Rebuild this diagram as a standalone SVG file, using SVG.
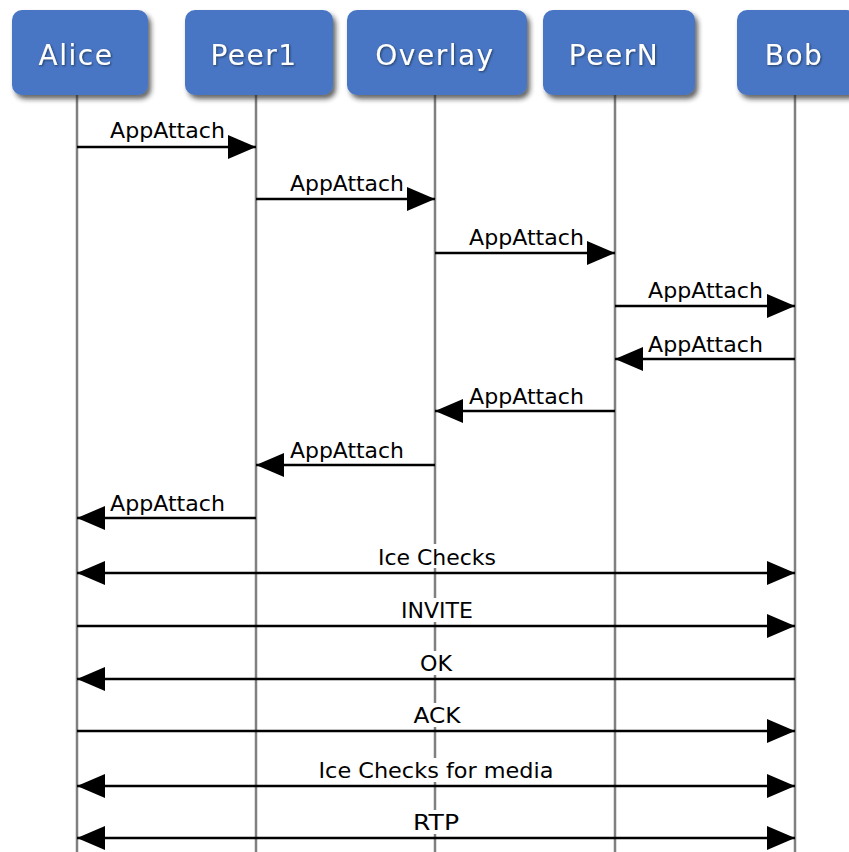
<svg xmlns="http://www.w3.org/2000/svg" width="849" height="852" viewBox="0 0 849 852">
<style>
.box{fill:#4a76c4;filter:url(#sh)}
.bt{font-family:"DejaVu Sans",Verdana,sans-serif;font-size:28px;fill:#fff;text-anchor:middle;letter-spacing:1.5px}
.life{stroke:#808080;stroke-width:2.5;fill:none}
.msg{stroke:#000;stroke-width:2.5;fill:none}
.r{marker-end:url(#ah)}
.l{marker-start:url(#ah)}
.b{marker-start:url(#ah);marker-end:url(#ah)}
.lt{font-family:"DejaVu Sans",Verdana,sans-serif;font-size:21px;fill:#000}
.ct{text-anchor:middle}
.bg{fill:#fff}
</style>
<defs>
<filter id="sh" x="-10%" y="-10%" width="130%" height="140%">
<feDropShadow dx="3" dy="4" stdDeviation="2.5" flood-color="#222" flood-opacity="0.7"/>
</filter>
<filter id="ts" x="-10%" y="-10%" width="120%" height="130%">
<feDropShadow dx="1" dy="1" stdDeviation="0.8" flood-color="#123" flood-opacity="0.7"/>
</filter>
<marker id="ah" markerUnits="userSpaceOnUse" markerWidth="28" markerHeight="24" refX="28" refY="12" orient="auto-start-reverse" viewBox="0 0 28 24">
<path d="M0,0 L28,12 L0,24 Z" fill="#000"/>
</marker>
</defs>
<rect width="849" height="852" fill="#fff"/>
<g id="lifelines">
<line class="life" x1="77" y1="95" x2="77" y2="852"/>
<line class="life" x1="256" y1="95" x2="256" y2="852"/>
<line class="life" x1="435" y1="95" x2="435" y2="852"/>
<line class="life" x1="615" y1="95" x2="615" y2="852"/>
<line class="life" x1="795" y1="95" x2="795" y2="852"/>
</g>
<g id="alice"><rect class="box" x="12" y="10" width="136" height="85" rx="10"/><text class="bt" x="76" y="65" filter="url(#ts)">Alice</text></g>
<g id="peer1"><rect class="box" x="185" y="10" width="148" height="85" rx="10"/><text class="bt" x="254" y="65" filter="url(#ts)">Peer1</text></g>
<g id="overlay"><rect class="box" x="347" y="10" width="180" height="85" rx="10"/><text class="bt" x="435" y="65" filter="url(#ts)">Overlay</text></g>
<g id="peern"><rect class="box" x="543" y="10" width="152" height="85" rx="10"/><text class="bt" x="614" y="65" filter="url(#ts)">PeerN</text></g>
<g id="bob"><rect class="box" x="737" y="10" width="120" height="85" rx="10"/><text class="bt" x="794" y="65" filter="url(#ts)">Bob</text></g>
<g id="connectors">
<line class="msg r" x1="77" y1="147" x2="256" y2="147"/>
<text class="lt" x="110" y="138" textLength="115" lengthAdjust="spacingAndGlyphs">AppAttach</text>
<line class="msg r" x1="256" y1="199" x2="435" y2="199"/>
<text class="lt" x="290" y="191" textLength="114" lengthAdjust="spacingAndGlyphs">AppAttach</text>
<line class="msg r" x1="435" y1="253" x2="615" y2="253"/>
<text class="lt" x="469" y="245" textLength="115" lengthAdjust="spacingAndGlyphs">AppAttach</text>
<line class="msg r" x1="615" y1="306" x2="795" y2="306"/>
<text class="lt" x="648" y="298" textLength="115" lengthAdjust="spacingAndGlyphs">AppAttach</text>
<line class="msg l" x1="615" y1="359" x2="795" y2="359"/>
<text class="lt" x="648" y="352" textLength="115" lengthAdjust="spacingAndGlyphs">AppAttach</text>
<line class="msg l" x1="435" y1="411" x2="615" y2="411"/>
<text class="lt" x="469" y="404" textLength="115" lengthAdjust="spacingAndGlyphs">AppAttach</text>
<line class="msg l" x1="256" y1="465" x2="435" y2="465"/>
<text class="lt" x="290" y="458" textLength="114" lengthAdjust="spacingAndGlyphs">AppAttach</text>
<line class="msg l" x1="77" y1="518" x2="256" y2="518"/>
<text class="lt" x="110" y="511" textLength="115" lengthAdjust="spacingAndGlyphs">AppAttach</text>

<rect class="bg" x="375" y="544" width="122" height="24"/>
<line class="msg b" x1="77" y1="573" x2="795" y2="573"/>
<text class="lt ct" x="437" y="565" textLength="118" lengthAdjust="spacingAndGlyphs">Ice Checks</text>

<rect class="bg" x="398" y="598" width="78" height="24"/>
<line class="msg r" x1="77" y1="626" x2="795" y2="626"/>
<text class="lt ct" x="437" y="618" textLength="72" lengthAdjust="spacingAndGlyphs">INVITE</text>

<rect class="bg" x="416" y="651" width="40" height="24"/>
<line class="msg l" x1="77" y1="679" x2="795" y2="679"/>
<text class="lt ct" x="436" y="671" textLength="32" lengthAdjust="spacingAndGlyphs">OK</text>

<rect class="bg" x="410" y="703" width="54" height="24"/>
<line class="msg r" x1="77" y1="731" x2="795" y2="731"/>
<text class="lt ct" x="437" y="723" textLength="47" lengthAdjust="spacingAndGlyphs">ACK</text>

<rect class="bg" x="315" y="758" width="242" height="24"/>
<line class="msg b" x1="77" y1="786" x2="795" y2="786"/>
<text class="lt ct" x="436" y="778" textLength="235" lengthAdjust="spacingAndGlyphs">Ice Checks for media</text>

<rect class="bg" x="410" y="810" width="54" height="24"/>
<line class="msg b" x1="77" y1="838" x2="795" y2="838"/>
<text class="lt ct" x="436" y="830" textLength="46" lengthAdjust="spacingAndGlyphs">RTP</text>
</g>
</svg>
